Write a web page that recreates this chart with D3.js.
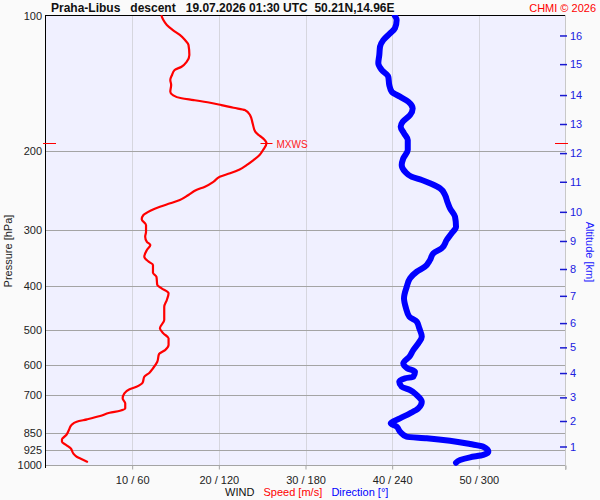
<!DOCTYPE html>
<html>
<head>
<meta charset="utf-8">
<script src="https://cdn.jsdelivr.net/npm/d3@7"></script>
<style>
  html, body { margin: 0; padding: 0; background: #fafafa; }
  svg { display: block; font-family: "Liberation Sans", Arial, sans-serif; }
</style>
</head>
<body>
<svg id="chart" width="600" height="500"></svg>
<script>
// ---------- DATA ----------
const titleText = "Praha-Libus   descent   19.07.2026 01:30 UTC  50.21N,14.96E";
const creditText = "CHMI \u00a9 2026";
const pressureTicks = [100, 200, 300, 400, 500, 600, 700, 850, 925, 1000];
const speedTicks = [10, 20, 30, 40, 50];
const directionTicks = [60, 120, 180, 240, 300];
const altitudeKm = [1, 2, 3, 4, 5, 6, 7, 8, 9, 10, 11, 12, 13, 14, 15, 16];
const altitudePressure = [909.5, 798, 707, 624, 547, 483, 420, 366, 317, 273, 234, 202, 174, 150, 128, 110.5];

// wind speed profile [m/s] at pressure [hPa]
const speedPressure = [100, 102.1, 104.7, 107.5, 110.2, 113.1, 116.0, 122.1, 126.4, 129.7, 131.9, 135.3, 138.8, 142.4, 147.4, 150.0, 152.5, 153.9, 156.0, 157.9, 160.1, 162.0, 166.2, 173.4, 181.0, 184.1, 187.3, 192.1, 198.8, 204.0, 209.3, 214.8, 219.6, 224.0, 228.0, 233.9, 240.0, 244.1, 250.4, 256.9, 261.3, 265.9, 271.4, 277.5, 283.7, 292.1, 302.3, 310.2, 318.3, 323.6, 332.0, 343.6, 352.5, 358.5, 373.0, 380.7, 397.3, 404.1, 414.6, 429.0, 444.0, 475.5, 496.2, 509.1, 522.3, 540.5, 554.6, 566.1, 588.8, 609.1, 623.0, 635.9, 655.8, 669.4, 678.4, 692.4, 710.4, 728.9, 747.8, 757.1, 764.9, 778.0, 791.3, 801.0, 814.6, 835.7, 857.6, 876.8, 887.5, 902.7, 918.1, 941.9, 958.4, 971.2, 983.3];
const speedValues = [13.4, 13.6, 14.0, 14.7, 15.5, 16.1, 16.5, 16.6, 16.3, 15.7, 14.9, 14.6, 14.4, 14.5, 14.4, 14.7, 15.7, 17.1, 19.0, 20.3, 21.7, 23.0, 23.6, 23.9, 24.2, 24.6, 25.1, 25.5, 25.1, 24.7, 24.0, 23.2, 22.4, 21.3, 20.1, 19.4, 18.4, 17.4, 16.5, 15.5, 14.4, 13.2, 12.1, 11.3, 11.1, 11.6, 11.6, 11.5, 11.7, 12.1, 11.7, 11.4, 11.9, 12.4, 12.4, 12.8, 12.9, 13.4, 14.2, 14.0, 13.7, 13.7, 13.2, 13.6, 14.2, 14.2, 13.8, 13.1, 12.9, 12.4, 12.0, 11.4, 11.2, 10.5, 9.7, 9.1, 8.9, 9.2, 9.2, 8.6, 7.4, 6.3, 4.8, 3.6, 3.0, 2.7, 2.4, 1.9, 1.9, 2.4, 2.9, 3.2, 3.6, 4.2, 4.8];

// wind direction profile [deg] at pressure [hPa]
const dirPressure = [100, 102.1, 106.5, 109.3, 113.1, 117.0, 122.1, 127.4, 131.9, 136.5, 142.4, 147.4, 151.2, 155.2, 160.6, 166.2, 172.0, 176.4, 182.5, 188.9, 198.8, 207.5, 214.8, 222.2, 228.0, 231.9, 236.7, 241.9, 250.4, 259.2, 268.1, 279.9, 294.6, 304.8, 315.3, 329.1, 337.7, 349.5, 361.7, 371.1, 383.8, 400.8, 425.3, 447.7, 467.5, 479.6, 496.2, 518.1, 535.9, 554.6, 574.0, 593.7, 609.1, 619.9, 635.9, 641.0, 652.5, 669.4, 680.8, 698.5, 722.8, 747.8, 767.3, 787.1, 807.5, 821.7, 843.1, 865.0, 872.1, 883.0, 897.9, 910.5, 934.4, 949.9, 961.4, 974.7, 988.3];
const dirValues = [241.9, 243.1, 241.9, 238.5, 233.9, 231.6, 231.1, 230.4, 232.8, 237.3, 238.0, 239.7, 245.4, 251.2, 254.2, 252.4, 247.3, 245.9, 248.2, 250.8, 250.8, 247.7, 246.6, 248.9, 253.5, 260.5, 267.4, 273.1, 276.6, 278.2, 280.0, 283.5, 284.2, 281.2, 277.8, 274.3, 268.5, 266.2, 262.7, 257.0, 252.4, 250.1, 248.2, 249.6, 251.9, 257.0, 258.8, 260.5, 258.1, 254.6, 251.9, 247.7, 250.5, 255.8, 254.6, 248.9, 244.9, 246.6, 252.3, 257.0, 260.5, 258.1, 252.3, 245.4, 239.0, 243.1, 245.4, 250.1, 263.9, 280.0, 293.9, 303.1, 306.6, 303.1, 293.9, 287.0, 284.2];

const maxWindPressure = [192.1];
const maxWindSpeed = [25.5];

// ---------- LAYOUT ----------
const L = 45.5, R = 565.5, T = 16, B = 465;
const svg = d3.select("#chart");

const y = d3.scaleLog().domain([100, 1000]).range([T, B]);
const xs = d3.scaleLinear().domain([0, 60]).range([L, R]);
const xd = d3.scaleLinear().domain([0, 360]).range([L, R]);

// plot background
svg.append("rect").attr("x", L).attr("y", 15).attr("width", R - L).attr("height", B - 15)
  .attr("fill", "#f0f0ff");

// clip
svg.append("clipPath").attr("id", "clip").append("rect")
  .attr("x", L).attr("y", 15).attr("width", R - L).attr("height", B - 15 + 1);

// vertical gridlines
svg.append("g").selectAll("line").data(speedTicks).join("line")
  .attr("x1", d => Math.round(xs(d)) + 0.5).attr("x2", d => Math.round(xs(d)) + 0.5)
  .attr("y1", 15).attr("y2", B)
  .attr("stroke", "#d6d6de").attr("stroke-width", 1);

// horizontal gridlines (pressure)
svg.append("g").selectAll("line").data(pressureTicks.filter(p => p > 100)).join("line")
  .attr("x1", L).attr("x2", R)
  .attr("y1", d => Math.round(y(d)) + 0.5).attr("y2", d => Math.round(y(d)) + 0.5)
  .attr("stroke", "#a4a4a4").attr("stroke-width", 1);

// right axis line (grey)
svg.append("line").attr("x1", 565.5).attr("x2", 565.5).attr("y1", 15).attr("y2", 470)
  .attr("stroke", "#c8c8c8");

// bottom axis
const bottomAxis = d3.axisBottom(xs).tickValues([...speedTicks, 60])
  .tickSize(4).tickPadding(7)
  .tickFormat(d => d === 60 ? "" : d + " / " + (d * 6));
const gb = svg.append("g").attr("transform", `translate(0,${B + 0.5})`).call(bottomAxis);
gb.select(".domain").remove();
gb.selectAll(".tick line").attr("stroke", "#a4a4a4");
gb.selectAll(".tick text").attr("fill", "#222").style("font-size", "11px")
  .style("font-family", "Liberation Sans, Arial, sans-serif");

// left axis labels
const leftAxis = d3.axisLeft(y).tickValues(pressureTicks).tickFormat(d3.format("d"))
  .tickSize(0).tickPadding(3);
const gl = svg.append("g").attr("transform", `translate(${L - 0.5},0)`).call(leftAxis);
gl.select(".domain").remove();
gl.selectAll(".tick text").attr("fill", "#222").style("font-size", "11px")
  .style("font-family", "Liberation Sans, Arial, sans-serif");

// left axis line & top line
svg.append("line").attr("x1", 45.5).attr("x2", 45.5).attr("y1", 15).attr("y2", 468)
  .attr("stroke", "#000");
svg.append("line").attr("x1", 45).attr("x2", 565).attr("y1", 15.5).attr("y2", 15.5)
  .attr("stroke", "#000");

// right altitude axis
const rightAxis = d3.axisRight(y).tickValues(altitudePressure)
  .tickFormat((d, i) => altitudeKm[i]).tickSize(7).tickPadding(3);
const gr = svg.append("g").attr("transform", `translate(560,0)`).call(rightAxis);
gr.select(".domain").remove();
gr.selectAll(".tick line").attr("stroke", "#1818d0").attr("stroke-width", 1.5);
gr.selectAll(".tick text").attr("fill", "#2020e0").style("font-size", "11px")
  .style("font-family", "Liberation Sans, Arial, sans-serif");

// lines
const lineSpeed = d3.line().x(d => xs(d[1])).y(d => y(d[0])).curve(d3.curveMonotoneY);
const lineDir = d3.line().x(d => xd(d[1])).y(d => y(d[0])).curve(d3.curveMonotoneY);
const plot = svg.append("g").attr("clip-path", "url(#clip)");

plot.append("path").datum(dirPressure.map((p, i) => [p, dirValues[i]]))
  .attr("d", lineDir).attr("fill", "none").attr("stroke", "#0000ff")
  .attr("stroke-width", 6).attr("stroke-linejoin", "round").attr("stroke-linecap", "round");

plot.append("path").datum(speedPressure.map((p, i) => [p, speedValues[i]]))
  .attr("d", lineSpeed).attr("fill", "none").attr("stroke", "#ff0000")
  .attr("stroke-width", 2.2).attr("stroke-linejoin", "round").attr("stroke-linecap", "round");

// MXWS markers
const my = Math.round(y(maxWindPressure[0])) + 0.5;
const mx = xs(maxWindSpeed[0]);
svg.append("line").attr("x1", 43).attr("x2", 56).attr("y1", my).attr("y2", my).attr("stroke", "#ff0000");
svg.append("line").attr("x1", 555).attr("x2", 568).attr("y1", my).attr("y2", my).attr("stroke", "#ff0000");
svg.append("line").attr("x1", mx - 6).attr("x2", mx + 6).attr("y1", my).attr("y2", my).attr("stroke", "#ff0000");
svg.append("text").attr("x", mx + 10).attr("y", my + 4).text("MXWS")
  .attr("fill", "#ff2020").style("font-size", "10px");

// title
svg.append("text").attr("x", 51).attr("y", 12).text(titleText)
  .style("white-space", "pre").attr("xml:space", "preserve")
  .style("font-weight", "bold").style("font-size", "12px").attr("fill", "#111");
svg.append("text").attr("x", 596).attr("y", 12).attr("text-anchor", "end").text(creditText)
  .attr("fill", "#ff0000").style("font-size", "11px");

// axis titles
svg.append("text").attr("transform", "translate(12,251) rotate(-90)").attr("text-anchor", "middle")
  .text("Pressure [hPa]").attr("fill", "#222").style("font-size", "11px");
svg.append("text").attr("transform", "translate(586,252) rotate(90)").attr("text-anchor", "middle")
  .text("Altitude [km]").attr("fill", "#2020ff").style("font-size", "11px");

// bottom legend
const leg = svg.append("text").attr("x", 225).attr("y", 496).style("white-space", "pre")
  .attr("xml:space", "preserve").style("font-size", "11px");
leg.append("tspan").text("WIND   ").attr("fill", "#111");
leg.append("tspan").text("Speed [m/s]   ").attr("fill", "#ff0000");
leg.append("tspan").text("Direction [\u00b0]").attr("fill", "#0000ff");
</script>
</body>
</html>
